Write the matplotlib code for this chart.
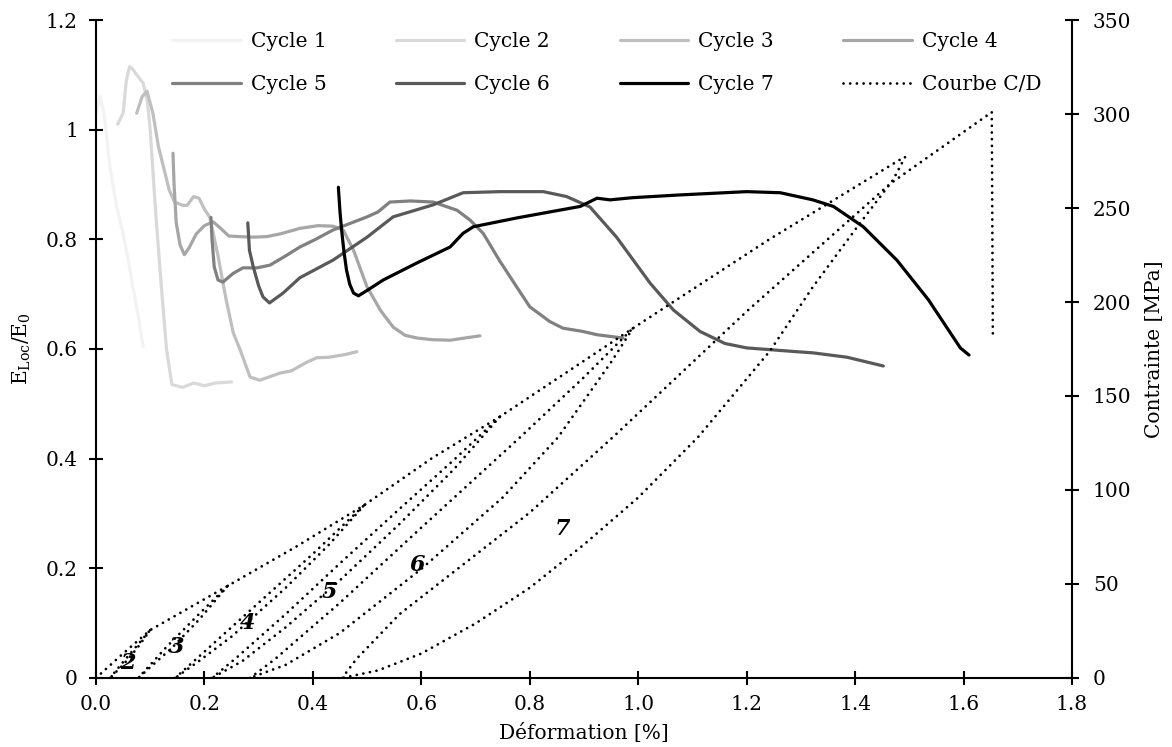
import numpy as np
import matplotlib.pyplot as plt
from matplotlib.ticker import FixedLocator, FixedFormatter

plt.rcParams['font.family'] = ['DejaVu Serif']
plt.rcParams['mathtext.fontset'] = 'dejavuserif'

# E_loc/E_0 curves (left axis)
c1_x = [0.0, 0.007, 0.015, 0.026, 0.038, 0.05, 0.06, 0.068, 0.078, 0.087]
c1_y = [1.03, 1.06, 1.03, 0.93, 0.86, 0.81, 0.76, 0.713, 0.66, 0.604]

c2_x = [0.04, 0.05, 0.056, 0.062, 0.068, 0.075, 0.087, 0.095, 0.1, 0.11, 0.12, 0.13, 0.14, 0.16, 0.18, 0.2, 0.22, 0.25]
c2_y = [1.01, 1.03, 1.09, 1.115, 1.11, 1.1, 1.085, 1.05, 1.0, 0.85, 0.72, 0.6, 0.535, 0.53, 0.538, 0.533, 0.538, 0.54]

c3_x = [0.075, 0.085, 0.094, 0.105, 0.115, 0.125, 0.135, 0.145, 0.16, 0.168, 0.18, 0.19, 0.2, 0.21,
        0.225, 0.24, 0.253, 0.266, 0.284, 0.302, 0.339, 0.36, 0.389, 0.407, 0.43, 0.46, 0.481]
c3_y = [1.03, 1.06, 1.07, 1.03, 0.97, 0.93, 0.89, 0.868, 0.862, 0.862, 0.878, 0.875, 0.855, 0.84,
        0.77, 0.69, 0.63, 0.598, 0.549, 0.543, 0.556, 0.56, 0.576, 0.584, 0.585, 0.59, 0.595]

c4_x = [0.142, 0.144, 0.148, 0.155, 0.163, 0.172, 0.185, 0.2, 0.216, 0.23, 0.245, 0.265, 0.29, 0.315,
        0.34, 0.376, 0.41, 0.437, 0.456, 0.475, 0.5, 0.525, 0.548, 0.57, 0.592, 0.62, 0.653, 0.68, 0.708]
c4_y = [0.957, 0.9, 0.83, 0.79, 0.772, 0.785, 0.81, 0.825, 0.832, 0.82, 0.806, 0.805, 0.804, 0.805,
        0.81, 0.82, 0.825, 0.824, 0.817, 0.78, 0.713, 0.67, 0.64, 0.625, 0.62, 0.617, 0.616, 0.62, 0.624]

c5_x = [0.212, 0.214, 0.218, 0.225, 0.234, 0.253, 0.271, 0.297, 0.321, 0.35, 0.376, 0.405, 0.437, 0.5,
        0.52, 0.542, 0.58, 0.622, 0.666, 0.69, 0.714, 0.745, 0.776, 0.8, 0.837, 0.861, 0.898, 0.924, 0.972]
c5_y = [0.84, 0.8, 0.75, 0.726, 0.722, 0.738, 0.748, 0.748, 0.753, 0.77, 0.786, 0.8, 0.817, 0.841,
        0.85, 0.868, 0.87, 0.868, 0.853, 0.835, 0.811, 0.76, 0.713, 0.677, 0.65, 0.638, 0.632, 0.626, 0.62]

c6_x = [0.28, 0.283, 0.29, 0.3, 0.308, 0.32, 0.345, 0.376, 0.437, 0.5, 0.548, 0.585, 0.622, 0.677,
        0.745, 0.825, 0.868, 0.911, 0.96, 1.022, 1.065, 1.114, 1.16, 1.2, 1.293, 1.322, 1.385, 1.452]
c6_y = [0.83, 0.78, 0.75, 0.715, 0.695, 0.684, 0.702, 0.73, 0.762, 0.804, 0.841, 0.852, 0.863, 0.885,
        0.887, 0.887, 0.878, 0.859, 0.804, 0.72, 0.671, 0.632, 0.61, 0.602, 0.595, 0.593, 0.585, 0.569]

c7_x = [0.447, 0.45, 0.453, 0.457, 0.462, 0.468, 0.475, 0.484, 0.505, 0.53, 0.592, 0.653, 0.677, 0.696,
        0.776, 0.837, 0.893, 0.924, 0.948, 0.99, 1.077, 1.2, 1.262, 1.322, 1.36, 1.415, 1.477, 1.535,
        1.594, 1.61]
c7_y = [0.895, 0.85, 0.817, 0.78, 0.744, 0.718, 0.702, 0.697, 0.71, 0.726, 0.757, 0.786, 0.811, 0.823,
        0.839, 0.85, 0.86, 0.875, 0.872, 0.876, 0.881, 0.887, 0.885, 0.872, 0.86, 0.823, 0.762, 0.69,
        0.602, 0.589]

cycle_labels = ['Cycle 1', 'Cycle 2', 'Cycle 3', 'Cycle 4', 'Cycle 5', 'Cycle 6', 'Cycle 7']
cycle_colors = ['#f2f2f2', '#d9d9d9', '#bfbfbf', '#a6a6a6', '#808080', '#595959', '#000000']

# charge/decharge curve (right axis, MPa)
env_x = [0.0, 0.05, 0.10, 0.17, 0.243, 0.37, 0.495, 0.62, 0.745, 0.99, 1.24, 1.49]
env_s = [0, 13, 25.5, 37, 49, 70, 92, 117, 139, 186, 233, 277]
u1_x = [0.10, 0.075, 0.05, 0.026]
u1_s = [25.5, 15.5, 7, 0]
r1_x = [0.026, 0.05, 0.075, 0.10]
r1_s = [0, 8.5, 17, 25.5]
u2_x = [0.243, 0.19, 0.14, 0.105, 0.078]
u2_s = [49, 31, 16, 7, 0]
r2_x = [0.078, 0.13, 0.19, 0.243]
r2_s = [0, 16.5, 34, 49]
u3_x = [0.495, 0.43, 0.35, 0.25, 0.19, 0.146]
u3_s = [92, 71, 48, 22, 9, 0]
r3_x = [0.146, 0.2, 0.3, 0.4, 0.495]
r3_s = [0, 14, 40, 66, 92]
u4_x = [0.745, 0.66, 0.56, 0.45, 0.35, 0.27, 0.214]
u4_s = [139, 111, 82, 52, 27, 9, 0]
r4_x = [0.214, 0.26, 0.35, 0.45, 0.56, 0.66, 0.745]
r4_s = [0, 11, 34, 61, 90, 116, 139]
u5_x = [0.99, 0.95, 0.852, 0.75, 0.6, 0.45, 0.35, 0.284]
u5_s = [186, 168, 128, 96, 58, 24, 7, 0]
r5_x = [0.284, 0.33, 0.45, 0.6, 0.782, 0.9, 0.99]
r5_s = [0, 10, 40, 80, 128, 160, 186]
u6_x = [1.492, 1.47, 1.404, 1.322, 1.243, 1.11, 1.0, 0.9, 0.8, 0.7, 0.6, 0.52, 0.454]
u6_s = [277, 265, 240, 208, 174, 128, 96, 71, 48, 29, 13, 4, 0]
r6_x = [0.454, 0.48, 0.56, 0.8, 0.953, 1.2, 1.465, 1.652, 1.654]
r6_s = [0, 10, 34, 88, 128, 195, 263, 301, 181]

loop_nums = ['2', '3', '4', '5', '6', '7']
loop_num_x = [0.059, 0.149, 0.279, 0.43, 0.592, 0.861]
loop_num_s = [8, 16.5, 29, 46, 60, 79]

x_ticks = [0.0, 0.2, 0.4, 0.6, 0.8, 1.0, 1.2, 1.4, 1.6, 1.8]
x_ticklabels = ['0.0', '0.2', '0.4', '0.6', '0.8', '1.0', '1.2', '1.4', '1.6', '1.8']
yl_ticks = [0, 0.2, 0.4, 0.6, 0.8, 1.0, 1.2]
yl_ticklabels = ['0', '0.2', '0.4', '0.6', '0.8', '1', '1.2']
yr_ticks = [0, 50, 100, 150, 200, 250, 300, 350]

fs = 14.5
fig = plt.figure(figsize=(11.72, 7.47), dpi=100)
ax = fig.add_axes([0.0819, 0.0924, 0.8328, 0.8808])
ax2 = ax.twinx()

cycles = [(c1_x, c1_y), (c2_x, c2_y), (c3_x, c3_y), (c4_x, c4_y),
          (c5_x, c5_y), (c6_x, c6_y), (c7_x, c7_y)]
handles = []
for (cx, cy), lab, col in zip(cycles, cycle_labels, cycle_colors):
    h, = ax.plot(cx, cy, color=col, lw=2.3, label=lab,
                 solid_capstyle='round', solid_joinstyle='round')
    handles.append(h)

cd_curves = [(env_x, env_s), (u1_x, u1_s), (r1_x, r1_s), (u2_x, u2_s), (r2_x, r2_s),
             (u3_x, u3_s), (r3_x, r3_s), (u4_x, u4_s), (r4_x, r4_s), (u5_x, u5_s),
             (r5_x, r5_s), (u6_x, u6_s), (r6_x, r6_s)]
for i, (cx, cs) in enumerate(cd_curves):
    h, = ax2.plot(cx, cs, color='black', lw=2.0, linestyle=(0, (0.01, 2.4)),
                  dash_capstyle='round', label='Courbe C/D' if i == 0 else None)
    if i == 0:
        handles.append(h)

for t, tx, ts in zip(loop_nums, loop_num_x, loop_num_s):
    ax2.text(tx, ts, t, fontsize=16, fontweight='bold', style='italic',
             ha='center', va='center')

ax.set_xlim(0, 1.8)
ax.set_ylim(0, 1.2)
ax2.set_ylim(0, 350)
ax.xaxis.set_major_locator(FixedLocator(x_ticks))
ax.xaxis.set_major_formatter(FixedFormatter(x_ticklabels))
ax.yaxis.set_major_locator(FixedLocator(yl_ticks))
ax.yaxis.set_major_formatter(FixedFormatter(yl_ticklabels))
ax2.set_yticks(yr_ticks)

for a in (ax, ax2):
    a.spines['top'].set_visible(False)
    for s in a.spines.values():
        s.set_linewidth(1.5)
    a.tick_params(direction='inout', length=10, width=1.5, labelsize=fs)
ax.spines['right'].set_visible(False)
ax2.spines['left'].set_visible(False)
ax2.spines['bottom'].set_visible(False)
ax.tick_params(axis='x', pad=7)
ax.tick_params(axis='y', pad=8)
ax2.tick_params(axis='y', pad=10)

ax.set_xlabel('Déformation [%]', fontsize=fs, labelpad=7)
ax.set_ylabel(r'$\mathregular{E_{Loc}/E_0}$', fontsize=fs, labelpad=9)
ax2.set_ylabel('Contrainte [MPa]', fontsize=fs, labelpad=10)

# legend filled row by row (matplotlib fills columns first)
order = [0, 4, 1, 5, 2, 6, 3, 7]
ax2.legend(handles=[handles[k] for k in order], ncol=4, loc='upper left',
           bbox_to_anchor=(0.078, 0.982), frameon=False, fontsize=fs,
           handlelength=3.4, handletextpad=0.5, columnspacing=3.45,
           labelspacing=1.2, borderpad=0, borderaxespad=0)

fig.savefig('out.png', dpi=100)
